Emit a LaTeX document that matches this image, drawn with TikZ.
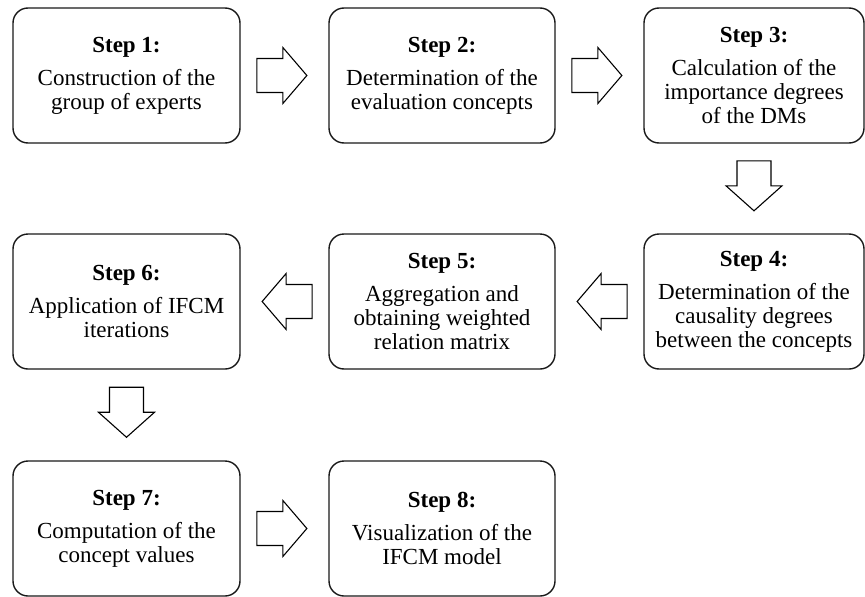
\documentclass[tikz,border=0pt]{standalone}
\usepackage{fontspec}
\setmainfont{Liberation Serif}
\begin{document}
\begin{tikzpicture}[x=1pt,y=-1pt,
  stepbox/.style={draw=black!90, line width=1.4pt, rounded corners=15pt,
    minimum height=135pt, align=center, font=\fontsize{23}{24}\selectfont, inner sep=2pt},
  blockarrow/.style={draw=black, line width=1.1pt, fill=white, line join=miter}]
\useasboundingbox (0,0) rectangle (865,597);
\node[stepbox, minimum width=227pt] (b1) at (126.5,75.5) {\textbf{Step 1:}\\[9pt]Construction of the\\group of experts};
\node[stepbox, minimum width=226pt] (b2) at (442,75.5) {\textbf{Step 2:}\\[9pt]Determination of the\\evaluation concepts};
\node[stepbox, minimum width=220pt] (b3) at (754,75.5) {\textbf{Step 3:}\\[9pt]Calculation of the\\importance degrees\\of the DMs};
\node[stepbox, minimum width=220pt] (b4) at (754,301.5) {\textbf{Step 4:}\\[9pt]Determination of the\\causality degrees\\between the concepts};
\node[stepbox, minimum width=226pt] (b5) at (442,301.5) {\textbf{Step 5:}\\[9pt]Aggregation and\\obtaining weighted\\relation matrix};
\node[stepbox, minimum width=227pt] (b6) at (126.5,301.5) {\textbf{Step 6:}\\[9pt]Application of IFCM\\iterations};
\node[stepbox, minimum width=227pt] (b7) at (126.5,528.5) {\textbf{Step 7:}\\[9pt]Computation of the\\concept values};
\node[stepbox, minimum width=226pt] (b8) at (442,528.5) {\textbf{Step 8:}\\[9pt]Visualization of the\\IFCM model};
% right arrows
\foreach \a/\b in {b1/b2, b2/b3, b7/b8}{
  \path (\a.east) -- (\b.west) coordinate[pos=0.47] (m);
  \draw[blockarrow] ([shift={(-25,-17)}]m) -- ([shift={(1,-17)}]m) -- ([shift={(1,-28)}]m)
    -- ([shift={(25,0)}]m) -- ([shift={(1,28)}]m) -- ([shift={(1,17)}]m) -- ([shift={(-25,17)}]m) -- cycle;
}
% left arrows
\foreach \a/\b in {b4/b5, b5/b6}{
  \path (\a.west) -- (\b.east) coordinate[pos=0.47] (m);
  \draw[blockarrow] ([shift={(25,-17)}]m) -- ([shift={(-1,-17)}]m) -- ([shift={(-1,-28)}]m)
    -- ([shift={(-25,0)}]m) -- ([shift={(-1,28)}]m) -- ([shift={(-1,17)}]m) -- ([shift={(25,17)}]m) -- cycle;
}
% down arrows
\foreach \a/\b in {b3/b4, b6/b7}{
  \path (\a.south) -- (\b.north) coordinate[pos=0.47] (m);
  \draw[blockarrow] ([shift={(-17,-25)}]m) -- ([shift={(-17,0)}]m) -- ([shift={(-28,0)}]m)
    -- ([shift={(0,25)}]m) -- ([shift={(28,0)}]m) -- ([shift={(17,0)}]m) -- ([shift={(17,-25)}]m) -- cycle;
}
\end{tikzpicture}
\end{document}
